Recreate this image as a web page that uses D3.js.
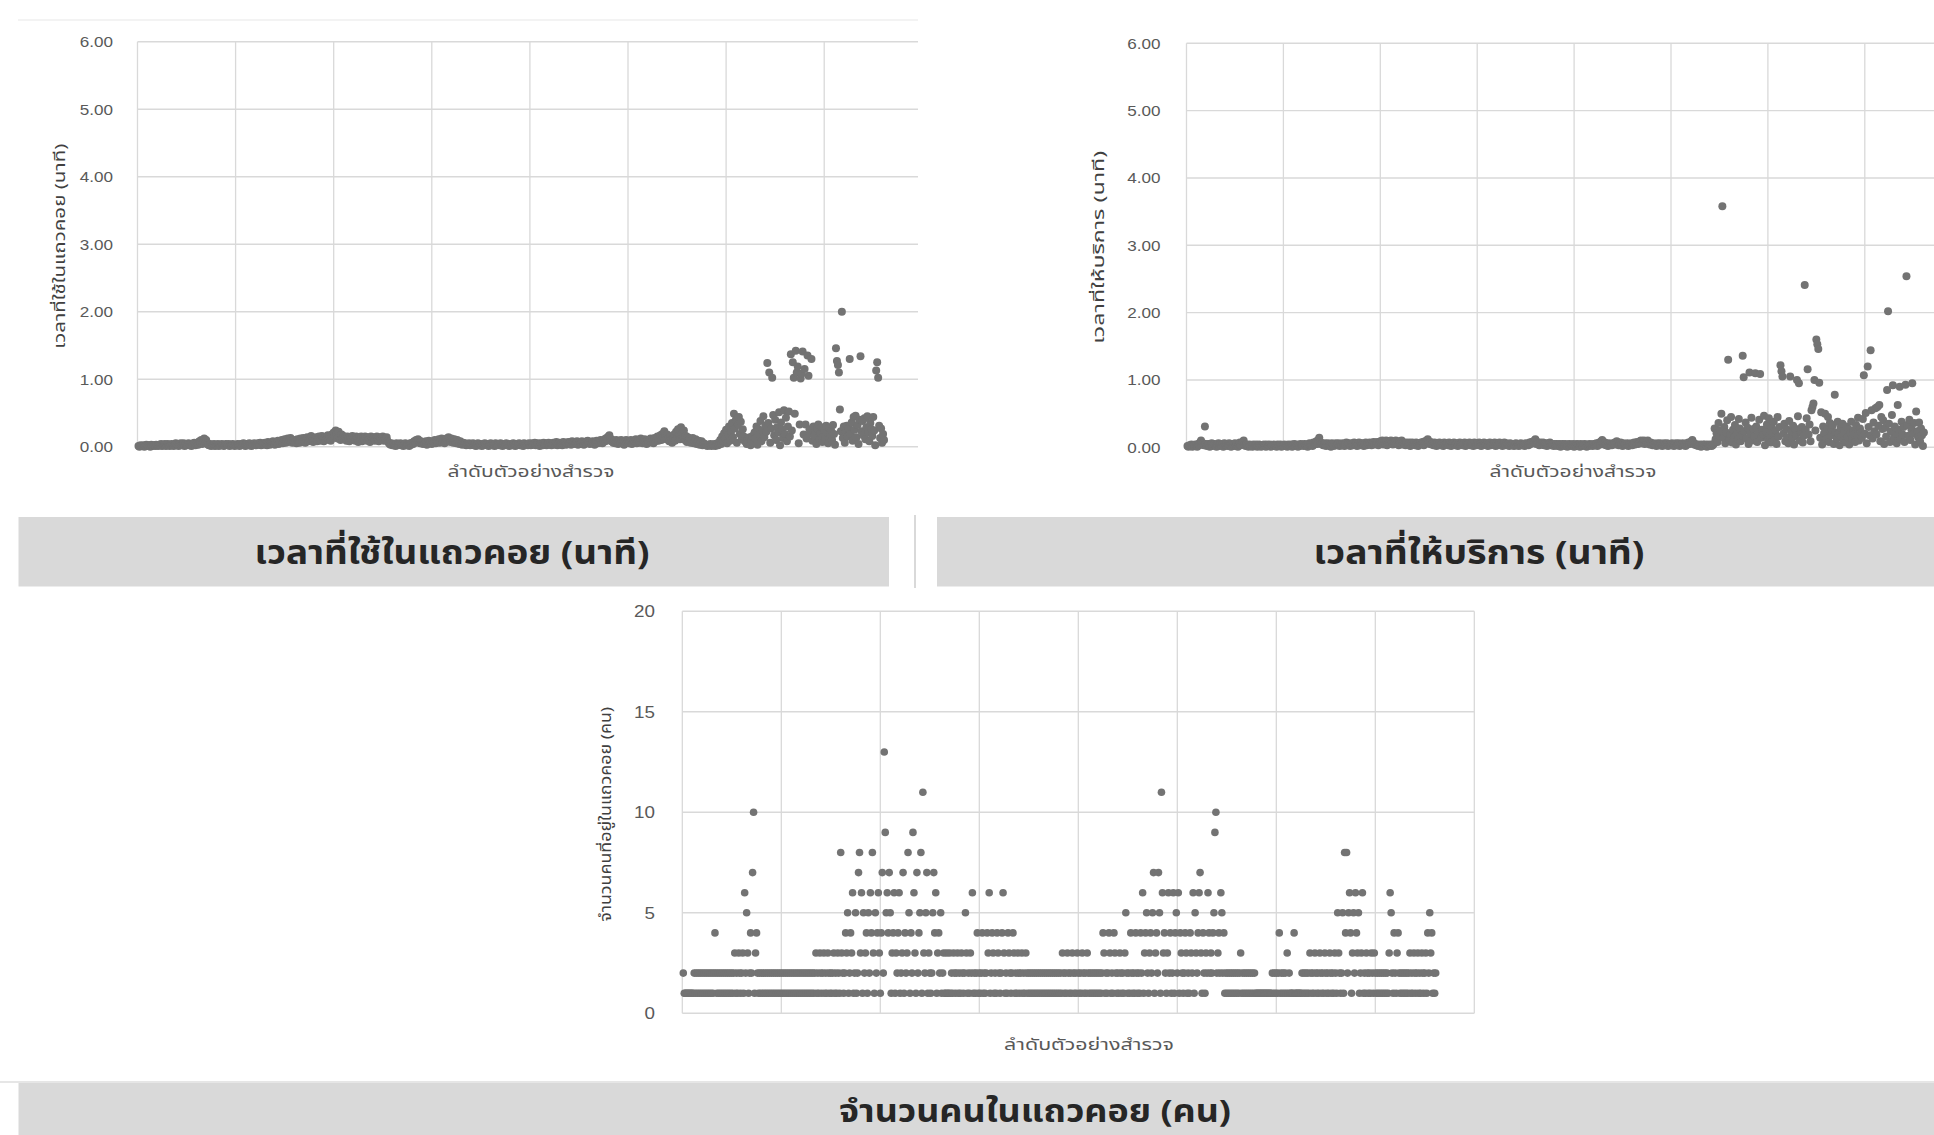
<!DOCTYPE html>
<html>
<head>
<meta charset="utf-8">
<script src="https://cdn.jsdelivr.net/npm/d3@7"></script>
<style>
  html, body { margin: 0; padding: 0; background: #ffffff; }
  svg { display: block; }
</style>
</head>
<body>
<svg id="chart" width="1934" height="1135"></svg>
<script>
// Waiting time in the queue (minutes), one value per surveyed sample, in survey order
const waitTime = [
0.01,0.00,0.02,0.01,0.01,0.02,0.00,0.01,0.03,0.02,0.01,0.02,0.00,0.03,0.01,0.02,0.02,0.01,0.03,0.02,
0.01,0.03,0.02,0.04,0.01,0.02,0.03,0.04,0.01,0.02,0.04,0.02,0.01,0.03,0.04,0.02,0.01,0.03,0.05,0.02,
0.03,0.01,0.04,0.05,0.02,0.03,0.05,0.01,0.04,0.02,0.03,0.05,0.02,0.04,0.01,0.03,0.05,0.06,0.02,0.04,
0.05,0.03,0.08,0.06,0.10,0.04,0.09,0.12,0.07,0.10,0.05,0.03,0.02,0.04,0.01,0.03,0.02,0.04,0.01,0.03,
0.02,0.04,0.01,0.03,0.02,0.04,0.03,0.01,0.02,0.04,0.03,0.02,0.04,0.01,0.03,0.02,0.04,0.03,0.01,0.03,
0.02,0.04,0.03,0.01,0.04,0.02,0.03,0.05,0.02,0.01,0.04,0.03,0.02,0.05,0.03,0.01,0.04,0.02,0.05,0.03,
0.02,0.04,0.05,0.03,0.06,0.02,0.04,0.05,0.03,0.06,0.04,0.02,0.07,0.05,0.03,0.06,0.04,0.08,0.05,0.03,
0.07,0.05,0.09,0.04,0.06,0.08,0.10,0.05,0.07,0.11,0.06,0.09,0.12,0.07,0.10,0.13,0.08,0.06,0.10,0.07,
0.09,0.05,0.11,0.08,0.06,0.12,0.10,0.07,0.13,0.09,0.06,0.11,0.14,0.08,0.10,0.12,0.16,0.09,0.07,0.12,
0.10,0.14,0.08,0.12,0.15,0.09,0.11,0.16,0.13,0.08,0.14,0.10,0.12,0.17,0.11,0.15,0.09,0.18,0.13,0.21,
0.16,0.24,0.19,0.12,0.22,0.15,0.10,0.18,0.13,0.16,0.11,0.14,0.09,0.15,0.12,0.08,0.14,0.11,0.16,0.10,
0.13,0.09,0.15,0.12,0.07,0.14,0.11,0.15,0.08,0.13,0.10,0.15,0.12,0.09,0.14,0.11,0.07,0.15,0.12,0.10,
0.14,0.09,0.13,0.15,0.11,0.08,0.14,0.12,0.10,0.15,0.09,0.13,0.11,0.14,0.08,0.06,0.04,0.03,0.05,0.02,
0.04,0.03,0.01,0.05,0.02,0.04,0.03,0.05,0.02,0.04,0.01,0.03,0.05,0.02,0.04,0.03,0.01,0.05,0.03,0.06,
0.04,0.08,0.06,0.10,0.07,0.11,0.09,0.05,0.08,0.06,0.04,0.07,0.05,0.08,0.03,0.06,0.09,0.05,0.07,0.04,
0.08,0.06,0.10,0.05,0.09,0.07,0.11,0.06,0.08,0.12,0.07,0.10,0.05,0.09,0.12,0.08,0.14,0.11,0.07,0.12,
0.09,0.06,0.11,0.08,0.05,0.10,0.07,0.04,0.08,0.05,0.03,0.06,0.04,0.05,0.02,0.04,0.03,0.05,0.02,0.04,
0.03,0.05,0.02,0.04,0.01,0.03,0.05,0.02,0.04,0.03,0.01,0.04,0.02,0.05,0.03,0.02,0.04,0.01,0.03,0.05,
0.02,0.04,0.03,0.01,0.05,0.02,0.03,0.04,0.02,0.05,0.03,0.01,0.04,0.02,0.03,0.05,0.02,0.04,0.01,0.03,
0.04,0.02,0.05,0.03,0.01,0.04,0.02,0.03,0.05,0.02,0.04,0.03,0.01,0.05,0.02,0.04,0.03,0.02,0.05,0.03,
0.02,0.05,0.03,0.04,0.06,0.02,0.04,0.05,0.03,0.01,0.05,0.04,0.02,0.06,0.03,0.05,0.02,0.04,0.06,0.03,
0.05,0.02,0.04,0.06,0.03,0.05,0.07,0.02,0.04,0.06,0.03,0.05,0.02,0.07,0.04,0.06,0.03,0.05,0.07,0.04,
0.06,0.03,0.08,0.05,0.07,0.04,0.06,0.08,0.03,0.05,0.07,0.04,0.08,0.06,0.03,0.07,0.05,0.08,0.09,0.06,
0.04,0.07,0.05,0.08,0.06,0.03,0.07,0.09,0.05,0.08,0.06,0.10,0.07,0.05,0.09,0.11,0.08,0.13,0.10,0.15,
0.17,0.12,0.08,0.10,0.06,0.09,0.05,0.10,0.07,0.04,0.09,0.06,0.10,0.05,0.08,0.03,0.07,0.10,0.06,0.09,
0.05,0.08,0.10,0.04,0.07,0.09,0.06,0.11,0.05,0.08,0.10,0.06,0.12,0.08,0.05,0.09,0.11,0.07,0.04,0.10,
0.06,0.09,0.12,0.07,0.10,0.05,0.13,0.08,0.11,0.15,0.09,0.12,0.17,0.10,0.19,0.14,0.23,0.16,0.11,0.18,
0.12,0.08,0.15,0.10,0.06,0.13,0.18,0.09,0.22,0.14,0.26,0.17,0.11,0.29,0.20,0.13,0.24,0.10,0.16,0.07,
0.14,0.09,0.12,0.06,0.10,0.13,0.05,0.08,0.11,0.04,0.07,0.09,0.03,0.06,0.08,0.02,0.05,0.04,0.02,0.03,
0.01,0.03,0.02,0.04,0.01,0.03,0.02,0.04,0.01,0.03,0.05,0.02,0.06,0.10,0.04,0.15,0.08,0.20,0.12,0.25,
0.05,0.18,0.30,0.09,0.22,0.35,0.14,0.49,0.27,0.40,0.06,0.33,0.44,0.19,0.37,0.11,0.26,0.15,0.08,0.13,
0.04,0.11,0.07,0.14,0.02,0.09,0.16,0.05,0.21,0.12,0.30,0.03,0.26,0.18,0.38,0.08,0.24,0.45,0.14,0.31,
0.22,1.24,0.35,1.10,0.06,0.27,1.02,0.47,0.17,0.40,0.10,0.29,0.21,0.51,0.02,0.36,0.25,0.13,0.54,0.19,
0.43,0.08,0.30,0.52,0.15,1.37,0.24,1.25,1.02,0.49,1.42,1.10,1.19,0.05,0.33,1.01,1.08,1.41,0.18,1.15,
0.33,0.12,1.35,1.05,0.26,0.20,1.30,0.09,0.30,0.16,0.24,0.04,0.27,0.33,0.11,0.20,0.29,0.07,0.15,0.25,
0.12,0.31,0.21,0.05,0.28,0.16,0.24,0.10,0.32,0.19,0.03,1.46,1.27,1.21,1.10,0.55,0.23,2.00,0.13,0.30,
0.06,0.22,0.31,0.15,0.27,1.30,0.19,0.36,0.09,0.44,0.25,0.46,0.14,0.32,0.04,0.40,1.34,0.23,0.38,0.17,
0.42,0.11,0.29,0.45,0.21,0.08,0.35,0.26,0.16,0.44,0.24,0.02,1.13,1.25,1.02,0.31,0.13,0.27,0.06,0.19,0.10
];

// Service time (minutes), same samples
const serviceTime = [
0.02,0.01,0.03,0.02,0.04,0.01,0.03,0.02,0.04,0.03,0.01,0.05,0.03,0.07,0.10,0.04,0.06,0.03,0.31,0.05,
0.02,0.04,0.05,0.01,0.03,0.06,0.02,0.04,0.05,0.03,0.01,0.04,0.06,0.02,0.05,0.03,0.04,0.01,0.06,0.03,
0.05,0.02,0.04,0.06,0.03,0.01,0.05,0.04,0.02,0.06,0.03,0.05,0.01,0.04,0.07,0.03,0.05,0.08,0.10,0.04,
0.02,0.04,0.03,0.01,0.04,0.02,0.03,0.01,0.04,0.02,0.03,0.04,0.01,0.02,0.04,0.03,0.01,0.03,0.02,0.04,
0.03,0.01,0.04,0.02,0.03,0.04,0.01,0.03,0.02,0.04,0.02,0.03,0.01,0.04,0.03,0.02,0.04,0.01,0.03,0.02,
0.04,0.02,0.03,0.01,0.04,0.03,0.02,0.04,0.01,0.03,0.05,0.02,0.04,0.03,0.01,0.04,0.02,0.05,0.03,0.04,
0.02,0.05,0.03,0.04,0.01,0.04,0.06,0.03,0.05,0.02,0.07,0.04,0.06,0.09,0.05,0.11,0.14,0.08,0.05,0.06,
0.03,0.05,0.06,0.02,0.04,0.06,0.03,0.05,0.01,0.06,0.04,0.02,0.05,0.06,0.03,0.04,0.06,0.02,0.05,0.03,
0.06,0.04,0.02,0.05,0.07,0.03,0.06,0.04,0.02,0.06,0.05,0.03,0.07,0.04,0.06,0.02,0.05,0.07,0.03,0.06,
0.04,0.06,0.02,0.05,0.07,0.03,0.06,0.04,0.07,0.05,0.03,0.06,0.08,0.04,0.07,0.05,0.08,0.03,0.07,0.09,
0.06,0.10,0.04,0.08,0.06,0.10,0.03,0.07,0.09,0.05,0.10,0.07,0.04,0.09,0.06,0.10,0.05,0.08,0.03,0.09,
0.06,0.10,0.04,0.07,0.05,0.03,0.07,0.06,0.04,0.07,0.02,0.05,0.07,0.04,0.06,0.03,0.07,0.05,0.02,0.06,
0.04,0.07,0.05,0.08,0.03,0.09,0.06,0.10,0.12,0.07,0.05,0.08,0.04,0.06,0.03,0.07,0.05,0.02,0.06,0.04,
0.07,0.03,0.05,0.06,0.02,0.07,0.04,0.05,0.06,0.03,0.07,0.05,0.02,0.06,0.04,0.07,0.03,0.05,0.06,0.02,
0.05,0.07,0.04,0.06,0.03,0.05,0.07,0.02,0.06,0.04,0.05,0.07,0.03,0.06,0.04,0.02,0.07,0.05,0.03,0.06,
0.04,0.07,0.05,0.02,0.06,0.03,0.07,0.05,0.04,0.06,0.02,0.05,0.07,0.03,0.06,0.04,0.05,0.07,0.02,0.06,
0.03,0.05,0.07,0.04,0.06,0.02,0.05,0.07,0.03,0.06,0.04,0.05,0.02,0.06,0.04,0.03,0.05,0.02,0.04,0.06,
0.03,0.05,0.02,0.04,0.06,0.03,0.05,0.04,0.02,0.06,0.04,0.05,0.03,0.07,0.05,0.08,0.06,0.09,0.07,0.12,
0.05,0.08,0.06,0.03,0.07,0.05,0.04,0.07,0.03,0.06,0.05,0.02,0.06,0.04,0.07,0.03,0.05,0.04,0.02,0.05,
0.03,0.05,0.02,0.04,0.05,0.01,0.03,0.05,0.04,0.02,0.05,0.03,0.01,0.04,0.05,0.02,0.04,0.03,0.05,0.01,
0.04,0.02,0.05,0.03,0.04,0.01,0.05,0.03,0.02,0.04,0.05,0.03,0.01,0.04,0.02,0.05,0.03,0.04,0.02,0.05,
0.03,0.04,0.06,0.02,0.05,0.07,0.04,0.09,0.11,0.06,0.04,0.07,0.03,0.05,0.02,0.06,0.04,0.05,0.03,0.06,
0.05,0.07,0.04,0.09,0.06,0.03,0.05,0.07,0.04,0.02,0.06,0.04,0.05,0.03,0.06,0.02,0.05,0.04,0.06,0.03,
0.05,0.07,0.04,0.06,0.08,0.05,0.07,0.09,0.10,0.06,0.08,0.10,0.05,0.09,0.07,0.10,0.06,0.04,0.07,0.05,
0.03,0.06,0.04,0.05,0.02,0.06,0.04,0.03,0.06,0.05,0.02,0.04,0.06,0.03,0.05,0.06,0.02,0.04,0.05,0.03,
0.06,0.04,0.02,0.05,0.06,0.03,0.04,0.06,0.02,0.05,0.04,0.06,0.03,0.05,0.02,0.06,0.04,0.07,0.05,0.08,
0.06,0.11,0.07,0.04,0.05,0.03,0.04,0.02,0.03,0.04,0.01,0.03,0.04,0.02,0.04,0.03,0.01,0.04,0.02,0.03,
0.04,0.02,0.03,0.05,0.28,0.12,0.21,0.08,0.36,0.17,0.25,0.50,3.58,0.14,0.30,0.06,0.22,0.40,1.30,0.11,
0.19,0.45,0.07,0.26,0.15,0.33,0.04,0.21,0.12,0.42,0.28,0.09,0.18,1.36,1.04,0.24,0.37,0.13,0.29,0.05,
1.11,0.20,0.44,0.10,0.27,0.16,1.10,0.31,0.08,0.22,0.41,1.09,0.14,0.26,0.19,0.47,0.03,0.23,0.34,0.12,
0.43,0.18,0.07,0.29,0.21,0.38,0.11,0.25,0.05,0.45,0.16,0.30,1.22,1.13,1.05,0.20,0.35,0.09,0.27,0.15,
0.06,0.39,1.05,0.24,0.13,0.32,0.04,0.28,0.18,1.00,0.46,0.95,0.10,0.22,0.30,0.07,0.17,2.41,0.26,0.43,
1.16,0.19,0.34,0.09,0.55,0.60,0.65,1.00,0.25,1.60,1.53,1.46,0.96,0.14,0.52,0.04,0.31,0.21,0.50,0.12,
0.28,0.45,0.08,0.36,0.18,0.26,0.33,0.05,0.78,0.22,0.13,0.38,0.20,0.03,0.29,0.16,0.35,0.10,0.24,0.07,
0.31,0.15,0.27,0.04,0.21,0.38,0.12,0.25,0.19,0.08,0.33,0.17,0.44,0.10,0.28,0.22,0.14,0.42,1.07,0.20,
0.51,0.06,1.20,0.30,0.18,1.44,0.55,0.13,0.37,0.24,0.58,0.19,0.60,0.32,0.63,0.09,0.45,0.27,0.40,0.05,
0.29,0.16,0.85,2.02,0.35,0.08,0.23,0.48,0.92,0.14,0.31,0.21,0.06,0.63,0.26,0.90,0.12,0.38,0.19,0.30,
0.08,0.93,2.54,0.33,0.17,0.41,0.11,0.27,0.95,0.20,0.36,0.04,0.53,0.24,0.15,0.37,0.09,0.28,0.18,0.02,0.22
];

// Number of people waiting in the queue, same samples
const queueLength = [
2,1,1,1,1,1,1,1,1,1,1,2,1,2,1,2,1,2,1,2,
1,2,1,2,1,2,1,2,1,2,1,2,4,2,1,2,1,2,1,2,
1,2,1,2,1,2,1,2,1,2,1,2,3,1,2,1,3,2,1,2,
3,1,6,2,5,3,1,2,4,2,7,10,1,3,4,2,1,2,1,2,
1,2,1,2,1,2,1,2,1,2,1,2,1,2,1,2,1,2,1,2,
1,2,1,2,1,2,1,2,1,2,1,2,1,2,1,2,1,2,1,2,
1,2,1,2,1,2,1,2,1,2,1,2,1,2,3,1,2,1,3,2,
1,2,3,1,2,1,3,2,1,2,1,2,3,1,2,1,3,2,1,8,
3,2,1,2,4,3,5,1,2,4,3,6,1,2,5,1,2,7,8,3,
6,1,5,2,3,4,1,5,2,6,4,8,3,1,5,2,4,6,3,1,
4,7,2,13,9,5,6,4,7,5,1,3,4,6,1,3,2,4,6,1,
2,3,7,1,4,2,3,8,5,1,4,2,9,6,3,1,7,2,4,5,
8,1,11,3,2,5,7,1,3,2,1,2,5,7,4,6,1,3,4,2,
5,1,2,3,1,1,3,1,1,3,1,2,1,3,2,1,2,3,1,2,
1,3,2,1,2,5,3,1,2,1,3,2,6,1,2,1,2,4,1,2,
1,2,4,1,2,1,2,4,3,6,1,2,4,3,1,2,1,4,3,2,
1,2,4,6,3,1,2,1,4,3,2,1,2,4,3,1,2,1,3,2,
1,2,3,1,2,1,3,2,1,2,1,2,1,2,1,2,1,2,1,2,
1,2,1,2,1,2,1,2,1,2,1,2,1,2,1,2,1,2,1,2,
1,2,1,3,2,1,2,1,3,2,1,2,1,3,2,1,2,1,3,2,
1,2,1,3,2,1,2,1,3,2,1,2,1,2,1,2,1,2,1,2,
1,2,1,2,4,3,1,2,1,2,4,3,1,2,1,4,3,2,1,2,
1,3,2,1,2,1,3,5,2,1,2,1,4,2,1,2,1,4,2,1,
2,1,4,2,6,1,3,4,5,2,1,3,4,2,5,7,1,3,4,2,
7,5,1,11,6,3,4,2,1,3,6,2,4,1,2,6,1,4,5,2,
6,1,4,3,2,1,2,4,3,1,2,1,4,3,2,6,1,5,3,2,
4,6,7,3,1,4,2,1,3,2,6,4,2,3,2,4,5,9,10,2,
3,4,2,6,5,2,4,1,2,1,2,1,2,1,2,1,2,1,2,1,
2,1,2,3,1,2,1,2,1,2,1,2,1,2,1,2,1,2,1,1,
1,1,1,1,1,1,1,1,1,1,1,1,1,1,1,2,1,2,1,2,
1,2,4,1,2,1,2,1,2,1,3,1,2,1,1,1,1,4,1,1,
1,1,1,1,1,2,1,2,1,2,1,2,1,3,2,1,2,1,3,2,
1,2,1,3,2,1,2,1,3,2,1,2,1,3,2,1,2,1,3,2,
1,5,3,2,1,2,5,1,8,4,8,2,5,6,4,1,3,5,2,6,
4,3,5,1,2,3,6,1,2,1,3,2,1,2,1,3,2,1,3,2,
1,2,1,2,1,2,1,2,1,2,1,2,1,3,6,5,2,1,4,2,
1,3,4,2,1,2,1,2,1,2,1,2,1,2,3,1,2,1,3,2,
1,2,3,1,2,1,3,2,1,2,3,1,4,2,5,3,4,1,2,1,2
];

// Axis ticks
const minuteTicks = [0, 1, 2, 3, 4, 5, 6];
const peopleTicks = [0, 5, 10, 15, 20];
const sampleGrid = [0, 100, 200, 300, 400, 500, 600, 700, 800];

// Text
const sampleAxisTitle = "ลำดับตัวอย่างสำรวจ";
const waitTitle = "เวลาที่ใช้ในแถวคอย (นาที)";
const serviceTitle = "เวลาที่ให้บริการ (นาที)";
const queueAxisTitle = "จำนวนคนที่อยู่ในแถวคอย (คน)";
const queueTitle = "จำนวนคนในแถวคอย (คน)";

const THAI_FONT = "'Noto Sans Thai', 'Noto Sans', 'DejaVu Sans', sans-serif";
const NUM_FONT = "'Liberation Sans', Arial, sans-serif";
const DOT = "#737373";
const GRID = "#d9d9d9";
const LABEL = "#595959";
const W = 1934, H = 1135;

const svg = d3.select("#chart");

// widen text horizontally by factor k (keeps the glyph height)
function widen(sel, k) {
  sel.each(function () {
    const len = this.getComputedTextLength();
    d3.select(this).attr("textLength", len * k).attr("lengthAdjust", "spacingAndGlyphs");
  });
}

// ---- caption bars -------------------------------------------------------
svg.append("line").attr("x1", 18).attr("x2", 918).attr("y1", 20).attr("y2", 20)
  .attr("stroke", "#efefef").attr("stroke-width", 1.5);

svg.append("rect").attr("x", 18.5).attr("y", 517).attr("width", 870.5).attr("height", 69.5)
  .attr("fill", "#d9d9d9");
svg.append("rect").attr("x", 937).attr("y", 517).attr("width", W - 937).attr("height", 69.5)
  .attr("fill", "#d9d9d9");
svg.append("line").attr("x1", 915).attr("x2", 915).attr("y1", 515).attr("y2", 588)
  .attr("stroke", "#d9d9d9").attr("stroke-width", 2);
svg.append("line").attr("x1", 0).attr("x2", W).attr("y1", 1082).attr("y2", 1082)
  .attr("stroke", "#e6e6e6").attr("stroke-width", 2);
svg.append("rect").attr("x", 18.5).attr("y", 1083).attr("width", W - 18.5).attr("height", H - 1083)
  .attr("fill", "#d9d9d9");

const captions = [
  { text: waitTitle, x: 452, y: 564, len: 395, size: 33 },
  { text: serviceTitle, x: 1479, y: 564, len: 331, size: 33 },
  { text: queueTitle, x: 1035, y: 1122, len: 392, size: 31 }
];
svg.selectAll("text.caption").data(captions).join("text")
  .attr("class", "caption")
  .attr("x", d => d.x).attr("y", d => d.y)
  .attr("text-anchor", "middle")
  .attr("font-family", THAI_FONT).attr("font-weight", "bold").attr("font-size", d => d.size)
  .attr("fill", "#262626")
  .attr("textLength", d => d.len).attr("lengthAdjust", "spacingAndGlyphs")
  .text(d => d.text);

// ---- scatter panels -----------------------------------------------------
const panels = [
  { id: "wait", values: waitTime, yMax: 6, ticks: minuteTicks, fmt: d3.format(".2f"),
    left: 137.5, right: 922.3, clipRight: 918, top: 41.7, bottom: 446.7, r: 4,
    labelRight: 113, labelSize: 15, yTitle: waitTitle, yTitleX: 60, yTitleLen: 205,
    xTitleX: 531, xTitleY: 472, xTitleLen: 167 },
  { id: "service", values: serviceTime, yMax: 6, ticks: minuteTicks, fmt: d3.format(".2f"),
    left: 1186.5, right: 1961.7, clipRight: W, top: 43.3, bottom: 447.3, r: 4,
    labelRight: 1160.5, labelSize: 15, yTitle: serviceTitle, yTitleX: 1099, yTitleLen: 193,
    xTitleX: 1573, xTitleY: 472, xTitleLen: 167 },
  { id: "queue", values: queueLength, yMax: 20, ticks: peopleTicks, fmt: d3.format("d"),
    left: 682.3, right: 1474.3, clipRight: 1476, top: 611.3, bottom: 1013.3, r: 3.8,
    labelRight: 655, labelSize: 16.5, yTitle: queueAxisTitle, yTitleX: 606, yTitleLen: 215,
    xTitleX: 1089, xTitleY: 1045, xTitleLen: 170 }
];

panels.forEach(p => {
  const x = d3.scaleLinear().domain([0, 800]).range([p.left, p.right]);
  const y = d3.scaleLinear().domain([0, p.yMax]).range([p.bottom, p.top]);
  const g = svg.append("g");
  const plotRight = Math.min(p.right, p.clipRight);

  svg.append("clipPath").attr("id", "clip-" + p.id)
    .append("rect")
    .attr("x", p.left - 10).attr("y", p.top - 10)
    .attr("width", plotRight - p.left + 10).attr("height", p.bottom - p.top + 20);

  const grid = g.append("g");
  grid.selectAll("line.h").data(p.ticks).join("line")
    .attr("x1", p.left).attr("x2", plotRight)
    .attr("y1", d => y(d)).attr("y2", d => y(d))
    .attr("stroke", GRID).attr("stroke-width", 1.4);
  grid.selectAll("line.v").data(sampleGrid.filter(s => x(s) <= plotRight)).join("line")
    .attr("x1", d => x(d)).attr("x2", d => x(d))
    .attr("y1", p.top).attr("y2", p.bottom)
    .attr("stroke", GRID).attr("stroke-width", 1.3);

  g.append("g").attr("clip-path", "url(#clip-" + p.id + ")")
    .selectAll("circle").data(p.values).join("circle")
    .attr("cx", (d, i) => x(i + 1))
    .attr("cy", d => y(d))
    .attr("r", p.r)
    .attr("fill", DOT);

  const axis = d3.axisLeft(y).tickValues(p.ticks).tickFormat(p.fmt)
    .tickSize(0).tickPadding(p.left - p.labelRight);
  const ag = g.append("g").attr("transform", `translate(${p.left},0)`).call(axis);
  ag.select(".domain").remove();
  const labels = ag.selectAll("text").attr("font-family", NUM_FONT)
    .attr("font-size", p.labelSize).attr("fill", LABEL);
  widen(labels, 1.14);

  g.append("text")
    .attr("transform", `translate(${p.yTitleX},${(p.top + p.bottom) / 2 + 2}) rotate(-90)`)
    .attr("text-anchor", "middle").attr("dominant-baseline", "central")
    .attr("font-family", THAI_FONT).attr("font-size", 15).attr("fill", "#404040")
    .attr("textLength", p.yTitleLen).attr("lengthAdjust", "spacingAndGlyphs")
    .text(p.yTitle);

  g.append("text")
    .attr("x", p.xTitleX).attr("y", p.xTitleY)
    .attr("text-anchor", "middle").attr("dominant-baseline", "central")
    .attr("font-family", THAI_FONT).attr("font-size", 15).attr("fill", LABEL)
    .attr("textLength", p.xTitleLen).attr("lengthAdjust", "spacingAndGlyphs")
    .text(sampleAxisTitle);
});
</script>
</body>
</html>
